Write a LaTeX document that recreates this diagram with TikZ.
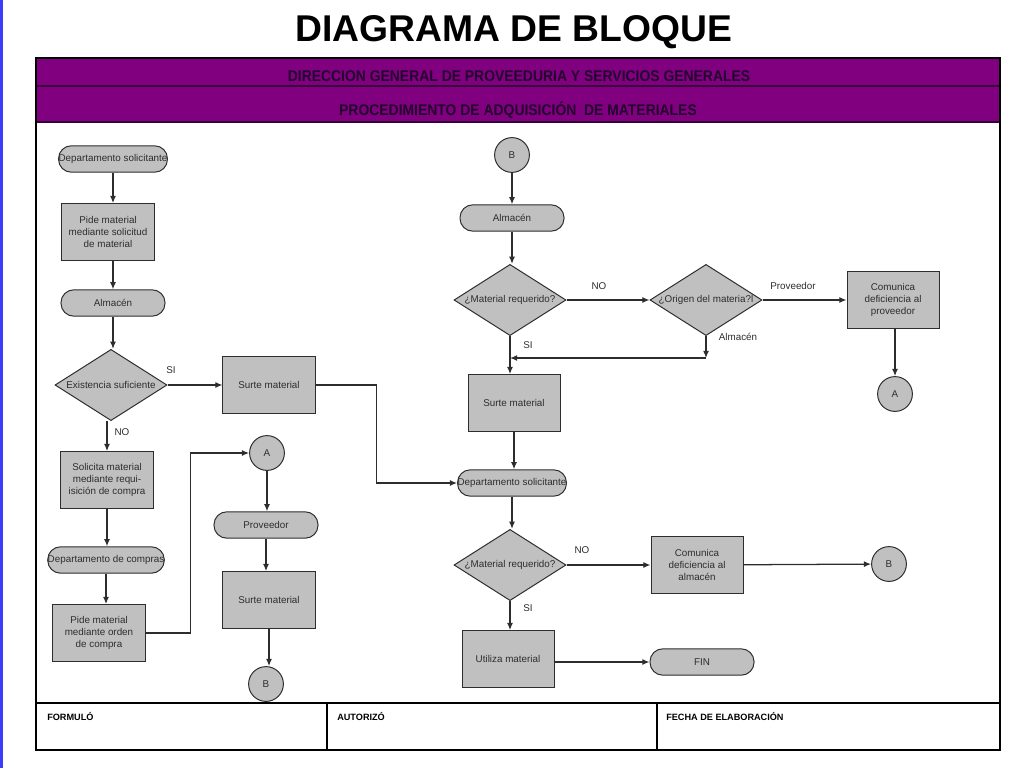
\documentclass[tikz,border=0pt]{standalone}
\usepackage{fontspec}
\setmainfont{Liberation Sans}
\usetikzlibrary{arrows.meta}
\usetikzlibrary{shapes.geometric}
\usetikzlibrary{positioning}
\definecolor{bandpurple}{RGB}{128,0,128}
\definecolor{bandline}{RGB}{55,0,60}
\definecolor{bandtext}{RGB}{35,0,45}
\definecolor{boxgray}{RGB}{192,192,192}
\definecolor{linegray}{RGB}{45,45,45}
\definecolor{edgeblue}{RGB}{60,60,250}
\tikzset{block/.style = {draw = linegray, fill = boxgray, line width = 0.7pt,
                         minimum width = 2.3cm, minimum height = 1.42cm,
                         align = center, text = linegray,
                         font = \fontsize{7}{8.6}\selectfont}}
\tikzset{term/.style = {draw = linegray, fill = boxgray, line width = 0.7pt,
                        rounded corners = 0.32cm, inner xsep = 0,
                        minimum width = 2.6cm, minimum height = 0.66cm,
                        text = linegray, font = \fontsize{7}{8.6}\selectfont}}
\tikzset{decision/.style = {draw = linegray, fill = boxgray, line width = 0.7pt,
                            shape = diamond, aspect = 1.57, inner sep = 0,
                            minimum width = 2.8cm, minimum height = 1.78cm,
                            text = linegray, font = \fontsize{7}{8.6}\selectfont}}
\tikzset{joint/.style = {draw = linegray, fill = boxgray, line width = 0.7pt,
                         shape = circle, inner sep = 0, minimum size = 0.87cm,
                         text = linegray, font = \fontsize{7}{8.6}\selectfont}}
\tikzset{flow/.style = {draw = linegray, line width = 0.9pt,
                        -{Latex[length = 1.8mm, width = 1.5mm]}}}
\tikzset{lbl/.style = {text = linegray, inner sep = 0, font = \fontsize{7}{8.6}\selectfont}}
\tikzset{band/.style = {anchor = base, inner sep = 0, text = bandtext,
                        font = \fontsize{11}{13}\bfseries\selectfont}}
\tikzset{foot/.style = {anchor = west, inner sep = 0, font = \fontsize{6.5}{8}\bfseries\selectfont}}

\begin{document}
\begin{tikzpicture}[x = 0.025cm, y = -0.025cm]
  \useasboundingbox (0, 0) rectangle (1024, 768);
  \fill [edgeblue] (0, 0) rectangle (3, 768);

  \node [anchor = base, inner sep = 0, font = \fontsize{26.5}{30}\bfseries\selectfont] (title) at (514, 42) {DIAGRAMA DE BLOQUE};

  \fill [bandpurple] (36, 58) rectangle (1000, 122);
  \draw [bandline, line width = 0.9pt] (36, 86) -- (1000, 86);
  \draw [bandline, line width = 0.9pt] (36, 122) -- (1000, 122);
  \node [band] (dir) at (519, 82) {\scalebox{0.9}[1]{DIRECCION GENERAL DE PROVEEDURIA Y SERVICIOS GENERALES}};
  \node [band] (proc) at (518, 116) {\scalebox{0.9}[1]{PROCEDIMIENTO DE ADQUISICIÓN \ DE MATERIALES}};

  \draw [line width = 0.9pt] (36, 703) -- (1000, 703);
  \draw [line width = 0.9pt] (327, 703) -- (327, 750);
  \draw [line width = 0.9pt] (657, 703) -- (657, 750);
  \draw [line width = 1.8pt] (36, 58) rectangle (1000, 750);
  \node [foot] (formulo) at (47, 716) {FORMULÓ};
  \node [foot] (autorizo) at (337, 716) {AUTORIZÓ};
  \node [foot] (fecha) at (666, 716) {FECHA DE ELABORACIÓN};

  % columna izquierda
  \node [term] (dsol1) at (113, 159) {Departamento solicitante};
  \node [block] (pide1) at (108, 232) {Pide material\\mediante solicitud\\de material};
  \node [term] (alm1) at (113, 303) {Almacén};
  \node [decision] (exist) at (111, 385) {Existencia suficiente};
  \node [block] (surte1) at (269, 385) {Surte material};
  \node [block] (solic) at (107, 480) {Solicita material\\mediante requi-\\isición de compra};
  \node [term] (dcomp) at (106, 560) {Departamento de compras};
  \node [block] (orden) at (99, 633) {Pide material\\mediante orden\\de compra};
  \node [joint] (circA1) at (267, 453) {A};
  \node [term] (prov) at (266, 525) {Proveedor};
  \node [block] (surte2) at (269, 600) {Surte material};
  \node [joint] (circB1) at (266, 684) {B};
  \node [lbl] (si1) at (171, 370) {SI};
  \node [lbl] (no1) at (122, 432) {NO};

  \draw [flow] (dsol1) -- (dsol1 |- pide1.north);
  \draw [flow] (dsol1 |- pide1.south) -- (alm1);
  \draw [flow] (alm1) -- (alm1 |- exist.north);
  \draw [flow] (exist) -- (surte1);
  \draw [flow] (exist.south -| solic) -- (solic.north);
  \draw [flow] (solic) -- (solic |- dcomp.north);
  \draw [flow] (dcomp) -- (dcomp |- orden.north);
  \draw [flow] (orden.east) -- ++(45, 0) |- (circA1.west);
  \draw [flow] (circA1) -- (circA1 |- prov.north);
  \draw [flow] (prov) -- (prov |- surte2.north);
  \draw [flow] (surte2) -- (surte2 |- circB1.north);

  % columna derecha
  \node [joint] (circB2) at (512, 155) {B};
  \node [term] (alm2) at (512, 218) {Almacén};
  \node [decision] (req1) at (510, 300) {¿Material requerido?};
  \node [decision] (origen) at (706, 300) {¿Origen del materia?l};
  \node [block] (comprov) at (893, 300) {Comunica\\deficiencia al\\proveedor};
  \node [joint] (circA2) at (895, 394) {A};
  \node [block] (surte3) at (514, 403) {Surte material};
  \node [term] (dsol2) at (512, 483) {Departamento solicitante};
  \node [decision] (req2) at (510, 565) {¿Material requerido?};
  \node [block] (comalm) at (697, 565) {Comunica\\deficiencia al\\almacén};
  \node [joint] (circB3) at (889, 564) {B};
  \node [block] (utiliza) at (508, 659) {Utiliza material};
  \node [term] (fin) at (702, 662) {FIN};
  \node [lbl] (no2) at (599, 286) {NO};
  \node [lbl] (provlbl) at (793, 286) {Proveedor};
  \node [lbl] (almlbl) at (738, 337) {Almacén};
  \node [lbl] (si2) at (528, 345) {SI};
  \node [lbl] (no3) at (582, 550) {NO};
  \node [lbl] (si3) at (528, 608) {SI};
  \coordinate (turn) at (706, 358);
  \coordinate (join) at (510, 358);

  \draw [flow] (circB2) -- (circB2 |- alm2.north);
  \draw [flow] (alm2) -- (alm2 |- req1.north);
  \draw [flow] (req1) -- (origen);
  \draw [flow] (origen) -- (comprov);
  \draw [flow] (comprov.south -| circA2) -- (circA2.north);
  \draw [flow] (origen.south) -- (turn);
  \draw [flow] (turn) -- (join);
  \draw [flow] (req1) -- (req1 |- surte3.north);
  \draw [flow] (surte3) -- (surte3 |- dsol2.north);
  \draw [flow] (surte1.east) -- ++(61, 0) |- (dsol2.west);
  \draw [flow] (dsol2) -- (dsol2 |- req2.north);
  \draw [flow] (req2) -- (comalm);
  \draw [flow] (comalm) -- (circB3);
  \draw [flow] (req2) -- (req2 |- utiliza.north);
  \draw [flow] (utiliza.east |- fin) -- (fin);
\end{tikzpicture}
\end{document}
